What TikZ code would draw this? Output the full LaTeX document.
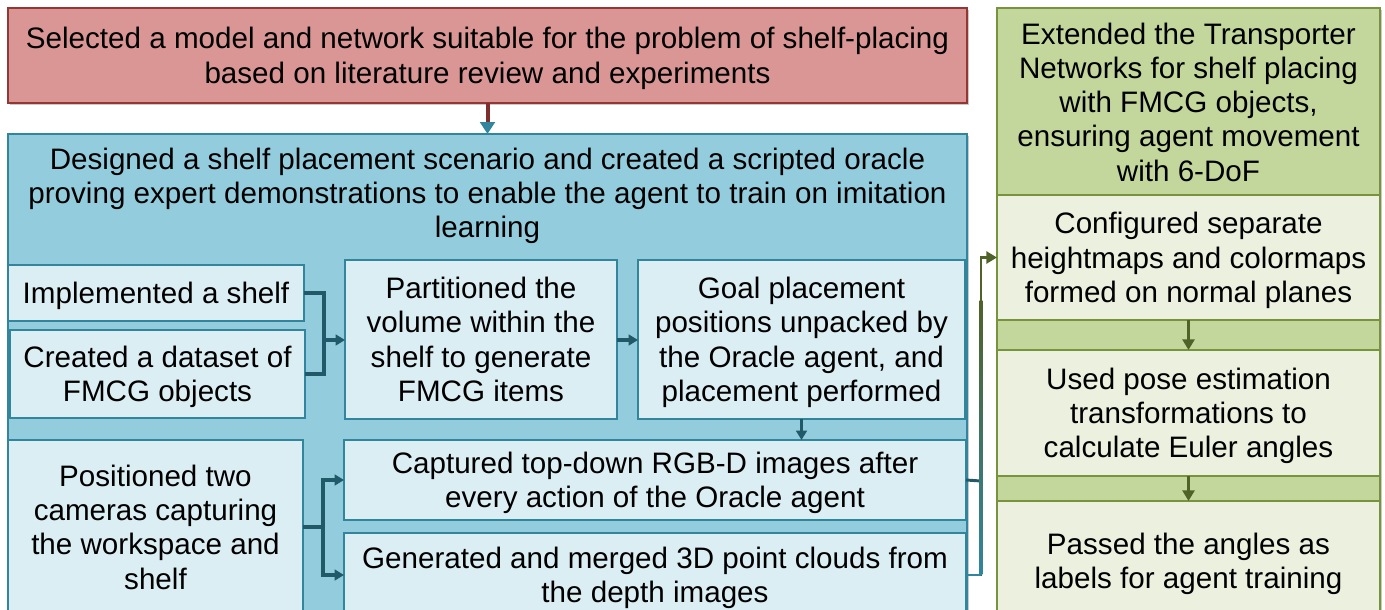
\documentclass[tikz,border=0pt]{standalone}
\usepackage{fontspec}
\setmainfont{Liberation Sans}
\usetikzlibrary{arrows.meta,shadows}
\definecolor{redfill}{HTML}{D99694}
\definecolor{redline}{HTML}{943634}
\definecolor{bluefill}{HTML}{93CDDD}
\definecolor{blueline}{HTML}{31859C}
\definecolor{innerfill}{HTML}{DBEEF4}
\definecolor{arrowteal}{HTML}{215968}
\definecolor{greenfill}{HTML}{C3D69B}
\definecolor{greenline}{HTML}{77933C}
\definecolor{greeninner}{HTML}{EBF1DE}
\definecolor{arrowgreen}{HTML}{4F6228}
\newcommand\mytop{\rule{0pt}{20.8pt}}
\newcommand\mybot{\rule[-4.9pt]{0pt}{0pt}}
\begin{document}
\begin{tikzpicture}[x=0.75pt,y=-0.75pt,
  txt/.style={font=\fontsize{22.2pt}{25.7pt}\selectfont, align=center, text=black},
  boxbase/.style={inner sep=0pt, outer sep=0pt, txt, rectangle},
  softshadow/.style={drop shadow={shadow xshift=1.2pt, shadow yshift=-1.5pt, opacity=0.35, fill=black!60}},
  redbox/.style={boxbase, draw=redline, line width=0.9pt, fill=redfill, softshadow},
  bluebox/.style={boxbase, draw=blueline, line width=0.9pt, fill=bluefill, softshadow},
  innerbox/.style={boxbase, draw=blueline, line width=1.8pt, fill=innerfill},
  greenbox/.style={boxbase, draw=greenline, line width=1.8pt, fill=greenfill, softshadow},
  greeninbox/.style={boxbase, draw=greenline, line width=1.8pt, fill=greeninner},
  tealline/.style={draw=arrowteal, line width=2.7pt},
  tealarrow/.style={tealline, -{Triangle[width=8pt,length=7pt]}},
  greenarrow/.style={draw=arrowgreen, line width=2.2pt, -{Triangle[width=9pt,length=8pt]}},
]
\useasboundingbox (0,0) rectangle (1385,610);
\clip (0,0) rectangle (1385,610);

% left column
\node[redbox, minimum width=719.25pt, minimum height=71.25pt] (red) at (487.5,55.5)
  {\mytop Selected a model and network suitable for the problem of shelf-placing\\based on literature review and experiments\mybot};
\node[bluebox, minimum width=719.25pt, minimum height=368.25pt] (blue) at (487.5,379.5) {};
\node[txt] (bluetitle) at (487.5,193) {\mytop Designed a shelf placement scenario and created a scripted oracle\\proving expert demonstrations to enable the agent to train on imitation\\learning\mybot};

\node[innerbox, minimum width=222pt, minimum height=42pt] (impl) at (156,293) {\mytop Implemented a shelf\mybot};
\node[innerbox, minimum width=221.25pt, minimum height=66pt] (created) at (157.5,374) {\mytop Created a dataset of\\FMCG objects\mybot};
\node[innerbox, minimum width=204pt, minimum height=119.25pt] (part) at (481,339.5) {\mytop Partitioned the\\volume within the\\shelf to generate\\FMCG items\mybot};
\node[innerbox, minimum width=245.25pt, minimum height=119.25pt] (goal) at (801.5,339.5) {\mytop Goal placement\\positions unpacked by\\the Oracle agent, and\\placement performed\mybot};
\node[innerbox, minimum width=221.25pt, minimum height=130.5pt] (pos) at (155.5,527) {\mytop Positioned two\\cameras capturing\\the workspace and\\shelf\mybot};
\node[innerbox, minimum width=466.5pt, minimum height=60pt] (capt) at (655,480) {\mytop Captured top-down RGB-D images after\\every action of the Oracle agent\mybot};
\node[innerbox, minimum width=466.5pt, minimum height=63pt] (gen) at (655,575) {\mytop Generated and merged 3D point clouds from\\the depth images\mybot};

% right column
\node[greenbox, minimum width=287.25pt, minimum height=462.75pt] (green) at (1188.5,316.5) {};
\node[txt] (greentitle) at (1188.5,102) {\mytop Extended the Transporter\\Networks for shelf placing\\with FMCG objects,\\ensuring agent movement\\with 6-DoF\mybot};
\node[greeninbox, minimum width=287.25pt, minimum height=93.75pt] (conf) at (1188.5,257.5) {\mytop Configured separate\\heightmaps and colormaps\\formed on normal planes\mybot};
\node[greeninbox, minimum width=287.25pt, minimum height=94.5pt] (used) at (1188.5,413) {\mytop Used pose estimation\\transformations to\\calculate Euler angles\mybot};
\node[greeninbox, minimum width=287.25pt, minimum height=90pt] (passed) at (1188.5,561) {\mytop Passed the angles as\\labels for agent training\mybot};

% connectors
\draw[draw=redline!85!black, line width=3pt, -{Triangle[width=11pt,length=9pt,color=blueline]}] (red.south) -- (blue.north);

\coordinate (j1) at (324,340);
\draw[tealline] (impl.east) -| (j1);
\draw[tealline] (created.east) -| (j1);
\draw[tealarrow] (j1) -- (j1 -| part.west);
\draw[tealarrow] (part.east |- j1) -- (goal.west |- j1);
\draw[tealarrow] (goal.south) -- (capt.north -| goal.south);

\coordinate (j2) at (323,527);
\draw[tealline] (pos.east |- j2) -- (j2);
\draw[tealarrow] (j2) |- (capt.west);
\draw[tealarrow] (j2) |- (gen.west);

\coordinate (j3) at (981,481);
\draw[tealline, line width=2.2pt] (capt.east) -- (j3);
\draw[greenarrow] (gen.east) -| (conf.west -| j3) -- (conf.west);
\shade[bottom color=blueline, top color=arrowgreen] (979.6,300) rectangle (982.4,574);
\draw[draw=blueline, line width=2.2pt] (gen.east) -| (979.6,574);

\draw[greenarrow] (conf.south) -- (used.north);
\draw[greenarrow] (used.south) -- (passed.north);
\end{tikzpicture}
\end{document}
